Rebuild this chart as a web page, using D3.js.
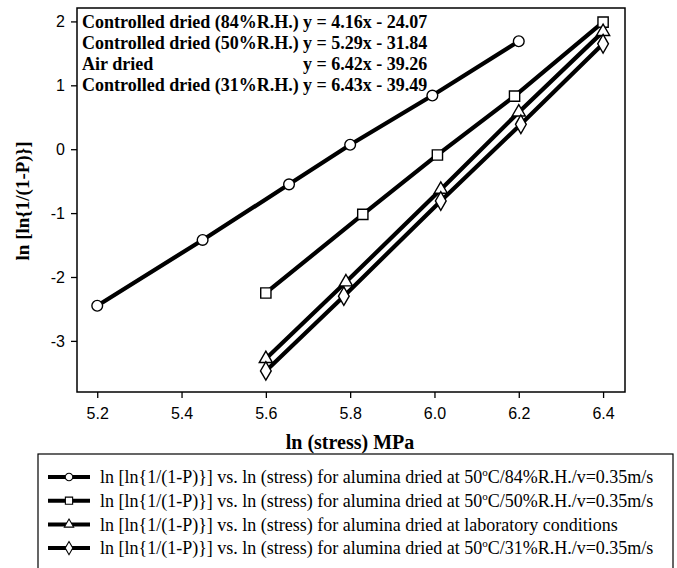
<!DOCTYPE html>
<html>
<head>
<meta charset="utf-8">
<script src="https://cdn.jsdelivr.net/npm/d3@7"></script>
<style>
  body { margin: 0; background: #fff; }
  svg { display: block; }
</style>
</head>
<body>
<svg id="chart" width="677" height="568"></svg>
<script>
// x = ln(stress), y = ln[ln{1/(1-P)}]
const rh84X = [5.20, 5.45, 5.655, 5.80, 5.995, 6.20];
const rh84Y = [-2.45, -1.42, -0.55, 0.07, 0.84, 1.69];
const rh50X = [5.60, 5.83, 6.007, 6.19, 6.40];
const rh50Y = [-2.25, -1.02, -0.09, 0.83, 1.99];
const airX = [5.60, 5.79, 6.015, 6.20, 6.40];
const airY = [-3.28, -2.08, -0.63, 0.58, 1.84];
const rh31X = [5.60, 5.785, 6.015, 6.205, 6.40];
const rh31Y = [-3.47, -2.30, -0.81, 0.39, 1.65];

const xTicks = [5.2, 5.4, 5.6, 5.8, 6.0, 6.2, 6.4];
const yTicks = [-3, -2, -1, 0, 1, 2];

const eqNames = ['Controlled dried (84%R.H.)', 'Controlled dried (50%R.H.)', 'Air dried', 'Controlled dried (31%R.H.)'];
const eqTexts = ['y = 4.16x - 24.07', 'y = 5.29x - 31.84', 'y = 6.42x - 39.26', 'y = 6.43x - 39.49'];
const legendConds = ['50|/84%R.H./v=0.35m/s', '50|/50%R.H./v=0.35m/s', 'laboratory conditions', '50|/31%R.H./v=0.35m/s'];

const series = [
  { xs: rh84X, ys: rh84Y, sym: d3.symbolCircle, size: 90 },
  { xs: rh50X, ys: rh50Y, sym: d3.symbolSquare, size: 105 },
  { xs: airX,  ys: airY,  sym: d3.symbolTriangle, size: 75 },
  { xs: rh31X, ys: rh31Y, sym: d3.symbolDiamond, size: 100 },
];

const svg = d3.select('#chart');
const M = { left: 77, right: 625, top: 8, bottom: 392 };

const x = d3.scaleLinear().domain([5.152, 6.452]).range([M.left, M.right]);
const y = d3.scaleLinear().domain([-3.8, 2.21]).range([M.bottom, M.top]);

// axes
const xAxis = svg.append('g').attr('transform', `translate(0,${M.bottom})`)
  .call(d3.axisBottom(x).tickValues(xTicks).tickFormat(d3.format('.1f')).tickSize(6).tickSizeOuter(0));
const yAxis = svg.append('g').attr('transform', `translate(${M.left},0)`)
  .call(d3.axisLeft(y).tickValues(yTicks).tickFormat(d => String(d)).tickSize(6).tickSizeOuter(0));
[xAxis, yAxis].forEach(g => {
  g.select('.domain').remove();
  g.selectAll('line').attr('stroke', '#000').attr('stroke-width', 1.3);
  g.selectAll('text').attr('fill', '#000')
    .style('font-family', '"Liberation Sans", Arial, sans-serif').style('font-size', '16px');
});
xAxis.selectAll('text').attr('dy', '1.15em');
yAxis.selectAll('text').attr('x', -12);

// frame
svg.append('rect')
  .attr('x', M.left).attr('y', M.top)
  .attr('width', M.right - M.left).attr('height', M.bottom - M.top)
  .attr('fill', 'none').attr('stroke', '#000').attr('stroke-width', 1.5);

// lines + markers
const line = d3.line().x(d => x(d[0])).y(d => y(d[1]));
series.forEach(s => {
  const pts = s.xs.map((v, i) => [v, s.ys[i]]);
  svg.append('path').datum(pts)
    .attr('d', line).attr('fill', 'none')
    .attr('stroke', '#000').attr('stroke-width', 4.2);
  svg.selectAll(null).data(pts).join('path')
    .attr('transform', d => `translate(${x(d[0])},${y(d[1])})`)
    .attr('d', d3.symbol().type(s.sym).size(s.size))
    .attr('fill', '#fff').attr('stroke', '#000').attr('stroke-width', 1.4);
});

// equations
const eqFont = '"Liberation Serif", "Times New Roman", serif';
eqNames.forEach((n, i) => {
  const yy = 22 + i * 21;
  svg.append('text').attr('x', 82).attr('y', yy).attr('dy', '0.35em')
    .style('font-family', eqFont).style('font-weight', 'bold').style('font-size', '18px')
    .text(n);
  svg.append('text').attr('x', 303).attr('y', yy).attr('dy', '0.35em')
    .style('font-family', eqFont).style('font-weight', 'bold').style('font-size', '18px')
    .text(eqTexts[i]);
});

// axis titles
svg.append('text').attr('x', 350).attr('y', 442).attr('dy', '0.35em')
  .attr('text-anchor', 'middle')
  .style('font-family', eqFont).style('font-weight', 'bold').style('font-size', '20px')
  .text('ln (stress) MPa');
svg.append('text')
  .attr('transform', `translate(22,201) rotate(-90)`)
  .attr('text-anchor', 'middle').attr('dy', '0.35em')
  .style('font-family', eqFont).style('font-weight', 'bold').style('font-size', '19px')
  .text('ln [ln{1/(1-P)}]');

// legend
svg.append('rect').attr('x', 38).attr('y', 454).attr('width', 635).attr('height', 130)
  .attr('fill', 'none').attr('stroke', '#000').attr('stroke-width', 1.2);
series.forEach((s, i) => {
  const yy = 477 + i * 23.7;
  svg.append('line').attr('x1', 48).attr('x2', 90).attr('y1', yy).attr('y2', yy)
    .attr('stroke', '#000').attr('stroke-width', 4);
  svg.append('path').attr('transform', `translate(69,${yy})`)
    .attr('d', d3.symbol().type(s.sym).size(s.size * 0.5))
    .attr('fill', '#fff').attr('stroke', '#000').attr('stroke-width', 1.1);
  const t = svg.append('text').attr('x', 100).attr('y', yy).attr('dy', '0.35em')
    .style('font-family', eqFont).style('font-size', '18px');
  const cond = legendConds[i];
  if (cond.includes('|')) {
    const [a, b] = cond.split('|');
    t.append('tspan').text('ln [ln{1/(1-P)}] vs. ln (stress) for alumina dried at ' + a);
    t.append('tspan').attr('dy', -7).style('font-size', '11px').text('o');
    t.append('tspan').attr('dy', 7).text('C' + b);
  } else {
    t.text('ln [ln{1/(1-P)}] vs. ln (stress) for alumina dried at ' + cond);
  }
});
</script>
</body>
</html>
